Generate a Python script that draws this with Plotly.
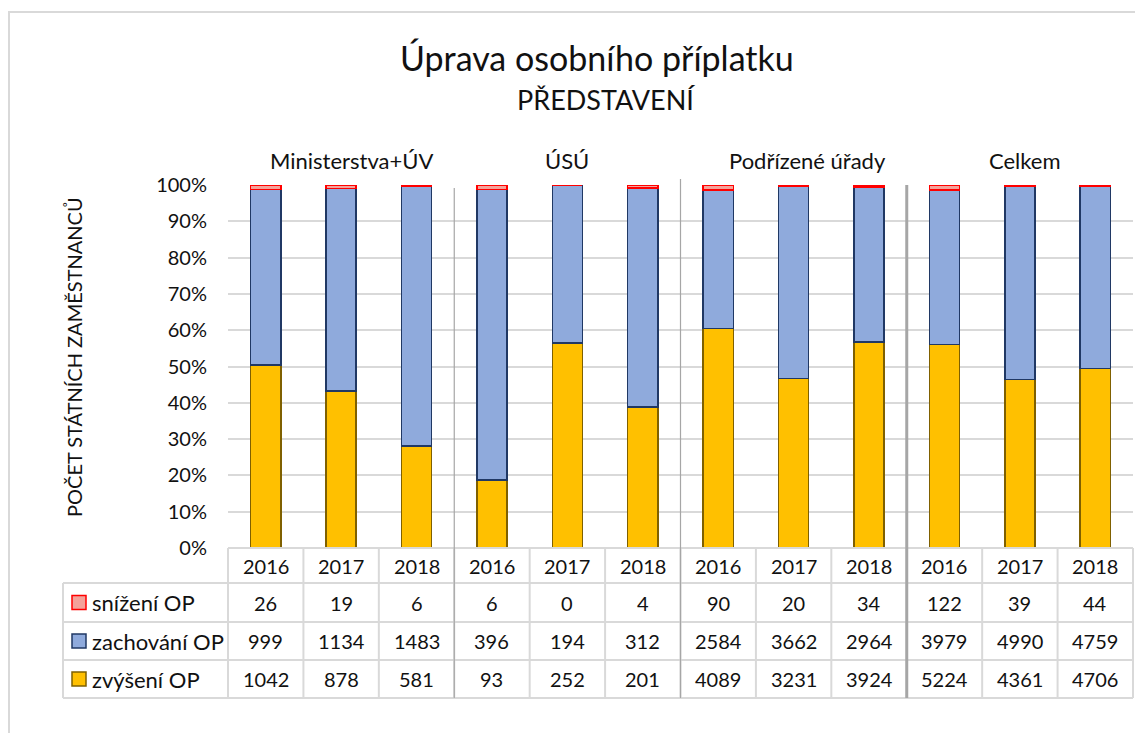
import plotly.graph_objects as go

# ---------------- data ----------------
groups = ["Ministerstva+ÚV", "ÚSÚ", "Podřízené úřady", "Celkem"]
years = ["2016", "2017", "2018"]
series_names = ["snížení OP", "zachování OP", "zvýšení OP"]
snizeni = [26, 19, 6, 6, 0, 4, 90, 20, 34, 122, 39, 44]
zachovani = [999, 1134, 1483, 396, 194, 312, 2584, 3662, 2964, 3979, 4990, 4759]
zvyseni = [1042, 878, 581, 93, 252, 201, 4089, 3231, 3924, 5224, 4361, 4706]
y_ticks = list(range(0, 101, 10))

title_text = "Úprava osobního příplatku"
subtitle_text = "PŘEDSTAVENÍ"
y_title = "POČET STÁTNÍCH ZAMĚSTNANCŮ"

# ---------------- styles / layout ----------------
FONT = "Lato, Carlito, Calibri, sans-serif"
OFF = 8  # browser body margin
W, H = 1143 - OFF, 733 - OFF
ML = 228 - OFF
MT = 185 - OFF
MR = W - (1133 - OFF)
MB = H - (548 - OFF)
PW = W - ML - MR
PH = H - MT - MB
GRID = "#d9d9d9"
SEP = "#a6a6a6"
TXT = "#111111"

colors = {
    "snížení OP": ("#F4A29A", "#FF0000"),
    "zachování OP": ("#8FAADC", "#203864"),
    "zvýšení OP": ("#FFC000", "#7F6000"),
}


def px(x):
    return (x - OFF - ML) / PW


def py(y):
    return (H - MB - (y - OFF)) / PH


n = len(groups) * len(years)
xs = list(range(n))
series = {"snížení OP": snizeni, "zachování OP": zachovani, "zvýšení OP": zvyseni}

fig = go.Figure()
for name in ["zvýšení OP", "zachování OP", "snížení OP"]:
    fill, line = colors[name]
    fig.add_trace(go.Bar(
        x=xs, y=series[name], name=name, width=0.4,
        marker=dict(color=fill, line=dict(color=line, width=1.5)),
        showlegend=False,
    ))

shapes = []
annotations = []

# table geometry (pixel rows)
row_edges = [548, 583, 622, 660, 698]
row_centers = [(row_edges[i] + row_edges[i + 1]) / 2 for i in range(4)]
leg_left = 63

# horizontal lines
shapes.append(dict(type="line", xref="paper", yref="paper", x0=0, x1=1,
                   y0=py(row_edges[0]), y1=py(row_edges[0]), line=dict(color=GRID, width=2)))
for ye in row_edges[1:]:
    shapes.append(dict(type="line", xref="paper", yref="paper", x0=px(leg_left), x1=1,
                       y0=py(ye), y1=py(ye), line=dict(color=GRID, width=2)))
# vertical lines
for k in range(1, n):
    shapes.append(dict(type="line", xref="x", yref="paper", x0=k - 0.5, x1=k - 0.5,
                       y0=py(row_edges[0]), y1=py(row_edges[-1]), line=dict(color=GRID, width=2)))
for xe in (0, 1):
    shapes.append(dict(type="line", xref="paper", yref="paper", x0=xe, x1=xe,
                       y0=py(row_edges[0]), y1=py(row_edges[-1]), line=dict(color=GRID, width=2)))
shapes.append(dict(type="line", xref="paper", yref="paper", x0=px(leg_left), x1=px(leg_left),
                   y0=py(row_edges[1]), y1=py(row_edges[-1]), line=dict(color=GRID, width=2)))

# group separators
sep_styles = [(188, 1.2), (179, 1.2), (185, 3)]
for gi in range(1, len(groups)):
    top, wdt = sep_styles[gi - 1]
    xb = gi * len(years) - 0.5
    shapes.append(dict(type="line", xref="x", yref="paper", x0=xb, x1=xb,
                       y0=py(top), y1=py(row_edges[-1]), line=dict(color=SEP, width=wdt)))

CELL = dict(family=FONT, size=20, color=TXT)
# header years
for i in xs:
    annotations.append(dict(x=i, y=py(row_centers[0]), xref="x", yref="paper",
                            xanchor="center", yanchor="middle",
                            text=years[i % len(years)], showarrow=False, font=CELL))
# value rows
for r, name in enumerate(series_names):
    yc = py(row_centers[r + 1])
    vals = series[name]
    for i in xs:
        annotations.append(dict(x=i, y=yc, xref="x", yref="paper", text=str(vals[i]),
                                xanchor="center", yanchor="middle",
                                showarrow=False, font=CELL))
    fill, line = colors[name]
    shapes.append(dict(type="rect", xref="paper", yref="paper",
                       x0=px(72), x1=px(86), y0=py(row_centers[r + 1] + 7), y1=py(row_centers[r + 1] - 7),
                       fillcolor=fill, line=dict(color=line, width=1.5)))
    annotations.append(dict(x=px(90), y=yc, xref="paper", yref="paper", text=name,
                            xanchor="left", yanchor="middle", showarrow=False,
                            font=dict(family=FONT, size=22, color=TXT)))

# group labels
g_shift = [10, 0, 14, 5]
for g, label in enumerate(groups):
    annotations.append(dict(x=g * len(years) + 1, y=py(160), xref="x", yref="paper",
                            xanchor="center", yanchor="middle",
                            text=label, showarrow=False, xshift=g_shift[g],
                            font=dict(family=FONT, size=22, color=TXT)))

# titles
annotations.append(dict(x=px(597), y=py(58), xref="paper", yref="paper", text=title_text,
                        xanchor="center", yanchor="middle",
                        showarrow=False, font=dict(family=FONT, size=34, color=TXT)))
annotations.append(dict(x=px(606), y=py(100), xref="paper", yref="paper", text=subtitle_text,
                        xanchor="center", yanchor="middle",
                        showarrow=False, font=dict(family=FONT, size=27, color=TXT)))
annotations.append(dict(x=px(74), y=py(357), xref="paper", yref="paper", text=y_title,
                        xanchor="center", yanchor="middle",
                        textangle=-90, showarrow=False, font=dict(family=FONT, size=20, color=TXT)))

# outer chart border
shapes.append(dict(type="rect", xref="paper", yref="paper", x0=px(9), x1=px(1170),
                   y0=py(12), y1=py(760), line=dict(color=GRID, width=2), layer="below"))

fig.update_layout(
    width=W, height=H,
    margin=dict(l=ML, r=MR, t=MT, b=MB),
    paper_bgcolor="white", plot_bgcolor="white",
    barmode="stack", barnorm="percent",
    shapes=shapes, annotations=annotations,
    font=dict(family=FONT, color=TXT),
)
fig.update_xaxes(range=[-0.5, n - 0.5], showticklabels=False, showgrid=False,
                 zeroline=False, showline=False, fixedrange=True)
fig.update_yaxes(range=[0, 100], tickvals=y_ticks, ticktext=[f"{v}%" for v in y_ticks],
                 showgrid=True, gridcolor=GRID, gridwidth=1.5, zeroline=True,
                 zerolinecolor=GRID, zerolinewidth=1.5, showline=False,
                 ticks="", ticklabelstandoff=20,
                 tickfont=dict(family=FONT, size=20, color=TXT), fixedrange=True)

fig.write_html("out.html")
